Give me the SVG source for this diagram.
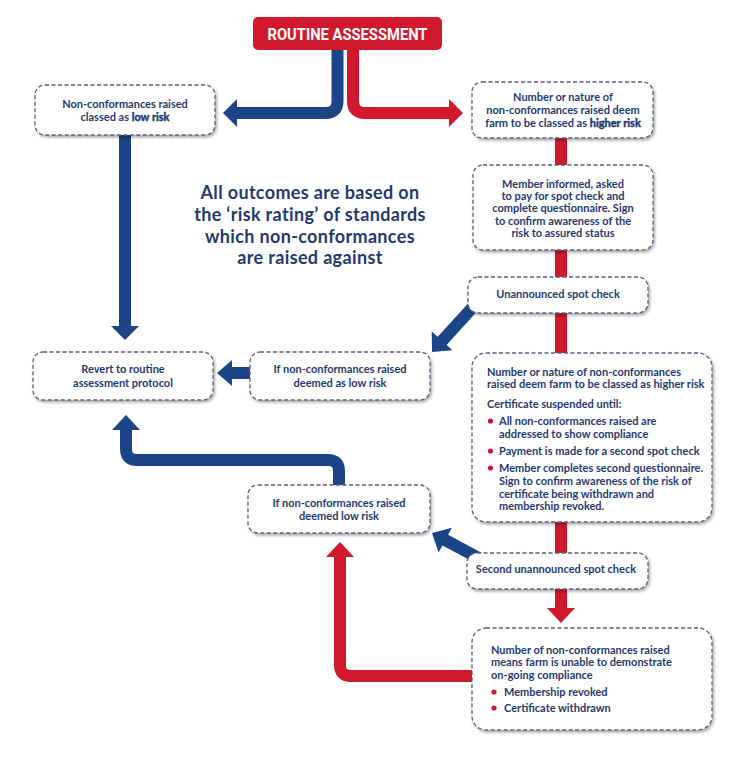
<svg xmlns="http://www.w3.org/2000/svg" width="749" height="757" viewBox="0 0 749 757">
<defs>
<filter id="sh" x="-10%" y="-20%" width="125%" height="150%">
<feDropShadow dx="1.5" dy="2" stdDeviation="1.4" flood-color="#000" flood-opacity="0.35"/>
</filter>
<style>
.box{fill:#fff;stroke:#56627e;stroke-width:1.3;stroke-dasharray:4 2.5;filter:url(#sh)}
.t{font-family:Lato,"Open Sans",sans-serif;font-size:11px;font-weight:700;fill:#1f3a6e}
.c{text-anchor:middle}
.em{stroke:#1f3a6e;stroke-width:0.45}
.big{font-family:Lato,"Open Sans",sans-serif;font-size:18px;letter-spacing:0.35px;font-weight:700;fill:#1f3a6e;text-anchor:middle}
.bl{stroke:#1c4587;stroke-width:12;fill:none}
.rd{stroke:#d0192d;stroke-width:12;fill:none}
.blh{fill:#1c4587}
.rdh{fill:#d0192d}
.dot{fill:#d0192d}
</style>
</defs>
<rect width="749" height="757" fill="#fff"/>
<g id="connectors">
<path class="bl" d="M337.5 50 V101 Q337.5 113 325.5 113 H236"/>
<polygon class="blh" points="223,113 237,99 237,127"/>
<path class="rd" d="M353 50 V101 Q353 113 365 113 H450"/>
<polygon class="rdh" points="463,113 449,99 449,127"/>
<path class="rd" d="M561 138 V609"/>
<polygon class="rdh" points="561,623 547,608 575,608"/>
<path class="bl" d="M125 135 V327"/>
<polygon class="blh" points="125,340 111,326 139,326"/>
<g transform="translate(432,352) rotate(132.3)">
<path class="bl" d="M-70 0 H-13"/>
<polygon class="blh" points="0,0 -15,-14 -15,14"/>
</g>
<path class="bl" d="M252 373 H231"/>
<polygon class="blh" points="217,373 232,360 232,386"/>
<path class="bl" d="M339 486 V471 Q339 460 328 460 H137 Q126 460 126 449 V429"/>
<polygon class="blh" points="126,415 112,430 140,430"/>
<path class="rd" d="M474 676 H351 Q340 676 340 665 V556"/>
<polygon class="rdh" points="340,542 326,557 354,557"/>
<g transform="translate(432,533) rotate(-151.8)">
<path class="bl" d="M-55 0 H-13"/>
<polygon class="blh" points="0,0 -15,-14 -15,14"/>
</g>
</g>
<g id="title">
<rect x="253" y="17" width="189" height="33" rx="5" fill="#d0192d"/>
<text x="347.5" y="40" text-anchor="middle" textLength="160" lengthAdjust="spacingAndGlyphs" style="font-family:Roboto,'Liberation Sans',sans-serif;font-size:17px;font-weight:700;fill:#fff">ROUTINE ASSESSMENT</text>
</g>
<g id="note">
<text class="big" x="310" y="199">All outcomes are based on</text>
<text class="big" x="310" y="220.8">the ‘risk rating’ of standards</text>
<text class="big" x="310" y="242.6">which non-conformances</text>
<text class="big" x="310" y="264.4">are raised against</text>
</g>
<g id="low-risk">
<rect class="box" x="35" y="85" width="180" height="50" rx="10"/>
<text class="t c" x="125" y="108">Non-conformances raised</text>
<text class="t c" x="125" y="121">classed as <tspan class="em">low risk</tspan></text>
</g>
<g id="higher-risk">
<rect class="box" x="472" y="82" width="181" height="56" rx="10"/>
<text class="t c" x="563" y="101">Number or nature of</text>
<text class="t c" x="563" y="114">non-conformances raised deem</text>
<text class="t c" x="563" y="127">farm to be classed as <tspan class="em">higher risk</tspan></text>
</g>
<g id="member-informed">
<rect class="box" x="473" y="165" width="180" height="85" rx="10"/>
<text class="t c" x="563" y="188">Member informed, asked</text>
<text class="t c" x="563" y="200">to pay for spot check and</text>
<text class="t c" x="563" y="212">complete questionnaire. Sign</text>
<text class="t c" x="563" y="225">to confirm awareness of the</text>
<text class="t c" x="563" y="237">risk to assured status</text>
</g>
<g id="spot-check">
<rect class="box" x="468" y="277" width="180" height="36" rx="10"/>
<text class="t c" x="558" y="298">Unannounced spot check</text>
</g>
<g id="suspended">
<rect class="box" x="472" y="353" width="240" height="169" rx="14"/>
<text class="t" x="487" y="376">Number or nature of non-conformances</text>
<text class="t" x="487" y="388">raised deem farm to be classed as higher risk</text>
<text class="t" x="487" y="408">Certificate suspended until:</text>
<circle class="dot" cx="490.5" cy="421" r="2.6"/>
<text class="t" x="499" y="425">All non-conformances raised are</text>
<text class="t" x="499" y="438">addressed to show compliance</text>
<circle class="dot" cx="490.5" cy="451" r="2.6"/>
<text class="t" x="499" y="455">Payment is made for a second spot check</text>
<circle class="dot" cx="490.5" cy="468" r="2.6"/>
<text class="t" x="499" y="472">Member completes second questionnaire.</text>
<text class="t" x="499" y="485">Sign to confirm awareness of the risk of</text>
<text class="t" x="499" y="498">certificate being withdrawn and</text>
<text class="t" x="499" y="510">membership revoked.</text>
</g>
<g id="revert">
<rect class="box" x="33" y="352" width="180" height="48" rx="10"/>
<text class="t c" x="123" y="373">Revert to routine</text>
<text class="t c" x="123" y="387">assessment protocol</text>
</g>
<g id="low-risk-1">
<rect class="box" x="250" y="352" width="180" height="48" rx="10"/>
<text class="t c" x="340" y="373">If non-conformances raised</text>
<text class="t c" x="340" y="387">deemed as low risk</text>
</g>
<g id="low-risk-2">
<rect class="box" x="248" y="485" width="182" height="48" rx="10"/>
<text class="t c" x="339" y="507">If non-conformances raised</text>
<text class="t c" x="339" y="520">deemed low risk</text>
</g>
<g id="second-spot-check">
<rect class="box" x="467" y="553" width="181" height="36" rx="10"/>
<text class="t c" x="556" y="573">Second unannounced spot check</text>
</g>
<g id="revoked">
<rect class="box" x="472" y="628" width="240" height="102" rx="14"/>
<text class="t" x="491" y="654">Number of non-conformances raised</text>
<text class="t" x="491" y="666">means farm is unable to demonstrate</text>
<text class="t" x="491" y="679">on-going compliance</text>
<circle class="dot" cx="494" cy="692" r="2.6"/>
<text class="t" x="504" y="696">Membership revoked</text>
<circle class="dot" cx="494" cy="708" r="2.6"/>
<text class="t" x="504" y="712">Certificate withdrawn</text>
</g>
</svg>
